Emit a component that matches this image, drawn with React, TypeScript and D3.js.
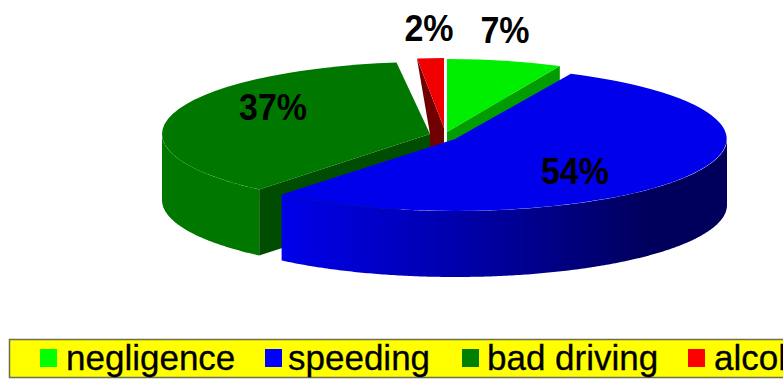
import React from "react";
import * as d3 from "d3";

// Share of road accidents by cause, in percent, clockwise from twelve o'clock.
const causes = ["negligence", "speeding", "bad driving", "alcohol"];
const shares = [7, 54, 37, 2];
const shareLabels = ["7%", "54%", "37%", "2%"];

const topColours = ["#00ee00", "#0000ea", "#007800", "#f00000"];
const legendColours = ["#00ff00", "#0000ff", "#008000", "#ff0000"];
const cutColours = ["#009c00", "#000090", "#004c00", "#700000"];

// Where each exploded slice sits: ellipse centre and radii.
const sliceLayout = [
  { cx: 447, cy: 132, rx: 265, ry: 73 },
  { cx: 455, cy: 139, rx: 272, ry: 72 },
  { cx: 430, cy: 134, rx: 268, ry: 72 },
  { cx: 444, cy: 128, rx: 216, ry: 70 },
];
const labelAnchors = [
  { x: 505, y: 43 },
  { x: 575, y: 184 },
  { x: 273, y: 120 },
  { x: 429, y: 41 },
];
const legendSlots = [
  { swatch: 40, text: 66 },
  { swatch: 265, text: 288 },
  { swatch: 462, text: 487 },
  { swatch: 688, text: 714 },
];

const WIDTH = 783;
const HEIGHT = 381;
const DEPTH = 66;

type Layout = (typeof sliceLayout)[number];

const rimPoint = (l: Layout, angle: number): [number, number] => [
  l.cx + l.rx * Math.sin(angle),
  l.cy - l.ry * Math.cos(angle),
];

const pie = d3
  .pie<number>()
  .sort(null)
  .value((d) => d);
const arcs = pie(shares);
const unitArc = d3.arc<d3.PieArcDatum<number>>().innerRadius(0).outerRadius(1);
const polyline = d3.line();

// The curved outer wall for the part of a rim facing the viewer.
function outerWall(l: Layout, start: number, end: number): string {
  const from = Math.max(start, Math.PI / 2);
  const to = Math.min(end, (3 * Math.PI) / 2);
  if (to <= from) return "";
  const angles = d3.range(from, to, 0.01).concat(to);
  const rim = angles.map((a) => rimPoint(l, a));
  const lower = rim.map(([x, y]) => [x, y + DEPTH] as [number, number]).reverse();
  return polyline([...rim, ...lower]) + "Z";
}

// The flat face exposed where a slice is cut along a radius.
function cutWall(l: Layout, angle: number): string {
  const rim = rimPoint(l, angle);
  return (
    polyline([
      rim,
      [l.cx, l.cy],
      [l.cx, l.cy + DEPTH],
      [rim[0], rim[1] + DEPTH],
    ]) + "Z"
  );
}

export default function App() {
  const [negligence, speeding, badDriving, alcohol] = arcs;
  const [lNeg, lSpeed, lBad, lAlc] = sliceLayout;
  const alcRim = rimPoint(lAlc, alcohol.startAngle);
  const topFace = (i: number) => (
    <path
      d={unitArc(arcs[i]) as string}
      fill={topColours[i]}
      transform={`translate(${sliceLayout[i].cx},${sliceLayout[i].cy}) scale(${sliceLayout[i].rx},${sliceLayout[i].ry})`}
    />
  );
  return (
    <svg
      width={WIDTH}
      height={HEIGHT}
      style={{ position: "fixed", left: 0, top: 0, background: "#fff" }}
      fontFamily="'Liberation Sans', Arial, sans-serif"
    >
      <defs>
        <linearGradient id="speedingWall" gradientUnits="userSpaceOnUse" x1={283} x2={650} y1={0} y2={0}>
          <stop offset="0" stopColor="#0000ea" />
          <stop offset="0.5" stopColor="#0000a8" />
          <stop offset="1" stopColor="#00005c" />
        </linearGradient>
      </defs>

      {/* alcohol: its cut face runs back to the bad-driving apex */}
      <path
        d={
          (polyline([
            alcRim,
            [lAlc.cx, lAlc.cy],
            [lAlc.cx, lAlc.cy + DEPTH],
            [lBad.cx, lBad.cy + DEPTH],
            [lBad.cx, lBad.cy],
          ]) as string) + "Z"
        }
        fill={cutColours[3]}
      />
      {topFace(3)}

      {/* negligence */}
      <path d={cutWall(lNeg, negligence.endAngle)} fill={cutColours[0]} />
      {topFace(0)}

      {/* bad driving: wall and top share one colour */}
      <path d={cutWall(lBad, badDriving.startAngle)} fill={cutColours[2]} />
      <path d={outerWall(lBad, badDriving.startAngle, badDriving.endAngle)} fill={topColours[2]} />
      {topFace(2)}

      {/* speeding sits in front of everything else */}
      <path d={outerWall(lSpeed, speeding.startAngle, speeding.endAngle)} fill="url(#speedingWall)" />
      {topFace(1)}

      {shareLabels.map((label, i) => (
        <text
          key={label}
          transform={`translate(${labelAnchors[i].x},${labelAnchors[i].y}) scale(1,1.1)`}
          textAnchor="middle"
          fontSize={34}
          fontWeight="bold"
          fill="#000"
        >
          {label}
        </text>
      ))}

      <rect x={9.5} y={339.5} width={800} height={38} fill="#ffff00" stroke="#6e6e50" strokeWidth={1.5} />
      {causes.map((cause, i) => (
        <g key={cause}>
          <rect x={legendSlots[i].swatch} y={349} width={17} height={18} fill={legendColours[i]} />
          <text x={legendSlots[i].text} y={370} fontSize={35} fill="#000" stroke="#000" strokeWidth={0.3}>
            {cause}
          </text>
        </g>
      ))}
    </svg>
  );
}
